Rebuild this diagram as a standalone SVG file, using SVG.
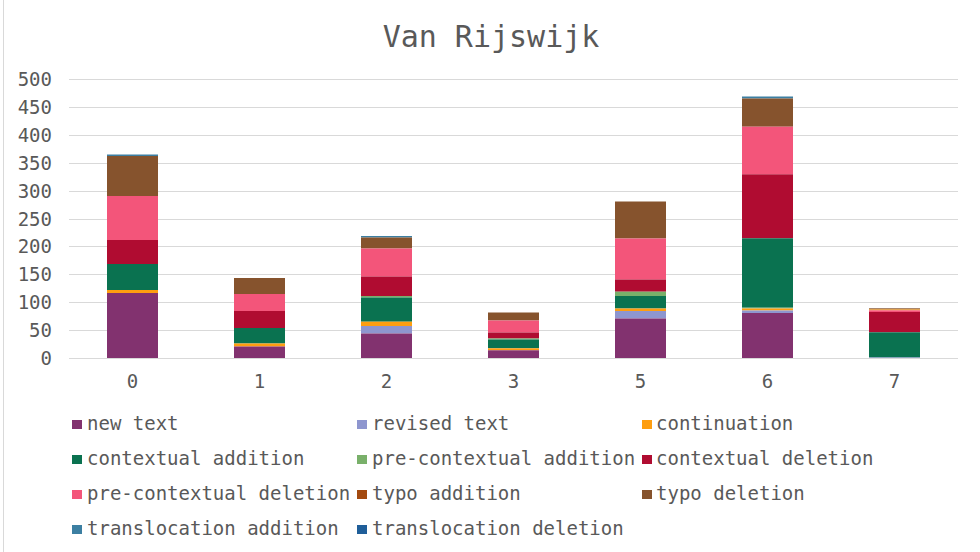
<svg xmlns="http://www.w3.org/2000/svg" width="980" height="552" viewBox="0 0 980 552">
<style>
text{font-family:"DejaVu Sans Mono","Liberation Mono",monospace;fill:#595959}
.title{font-size:30px;text-anchor:middle}
.ax{font-size:19px;text-anchor:end}
.cat{font-size:19px;text-anchor:middle}
.lg{font-size:19px}
.grid{stroke:#d9d9d9;stroke-width:1}
.nt{fill:#82326f}.rt{fill:#8e96cf}.cont{fill:#fe9e10}.ca{fill:#0a7250}.pca{fill:#79b06a}
.cd{fill:#b00c31}.pcd{fill:#f3557a}.tya{fill:#a34a10}.tyd{fill:#86532d}.tla{fill:#3c7fa2}.tld{fill:#1f5e99}
</style>
<rect x="0" y="0" width="980" height="552" fill="#ffffff"/>
<line x1="3.5" y1="0" x2="3.5" y2="552" stroke="#d9d9d9" stroke-width="1"/>
<text class="title" x="491" y="47">Van Rijswijk</text>
<g id="grid">
<line class="grid" x1="69" y1="79.5" x2="958" y2="79.5"/>
<line class="grid" x1="69" y1="107.5" x2="958" y2="107.5"/>
<line class="grid" x1="69" y1="135.5" x2="958" y2="135.5"/>
<line class="grid" x1="69" y1="163.5" x2="958" y2="163.5"/>
<line class="grid" x1="69" y1="191.5" x2="958" y2="191.5"/>
<line class="grid" x1="69" y1="219.5" x2="958" y2="219.5"/>
<line class="grid" x1="69" y1="246.5" x2="958" y2="246.5"/>
<line class="grid" x1="69" y1="274.5" x2="958" y2="274.5"/>
<line class="grid" x1="69" y1="302.5" x2="958" y2="302.5"/>
<line class="grid" x1="69" y1="330.5" x2="958" y2="330.5"/>
<line class="grid" x1="69" y1="358.5" x2="958" y2="358.5"/>
</g>
<g id="y-axis">
<text class="ax" x="52" y="86">500</text>
<text class="ax" x="52" y="114">450</text>
<text class="ax" x="52" y="142">400</text>
<text class="ax" x="52" y="170">350</text>
<text class="ax" x="52" y="198">300</text>
<text class="ax" x="52" y="226">250</text>
<text class="ax" x="52" y="253">200</text>
<text class="ax" x="52" y="281">150</text>
<text class="ax" x="52" y="309">100</text>
<text class="ax" x="52" y="337">50</text>
<text class="ax" x="52" y="365">0</text>
</g>
<g id="x-axis">
<text class="cat" x="132.5" y="388">0</text>
<text class="cat" x="259.5" y="388">1</text>
<text class="cat" x="386.5" y="388">2</text>
<text class="cat" x="513.5" y="388">3</text>
<text class="cat" x="640.5" y="388">5</text>
<text class="cat" x="767.5" y="388">6</text>
<text class="cat" x="894.5" y="388">7</text>
</g>
<g id="bar-0">
<rect class="tla" x="107" y="154.5" width="51" height="1.5"/>
<rect class="tyd" x="107" y="156" width="51" height="40"/>
<rect class="pcd" x="107" y="196" width="51" height="44"/>
<rect class="cd" x="107" y="240" width="51" height="24"/>
<rect class="ca" x="107" y="264" width="51" height="26"/>
<rect class="cont" x="107" y="290" width="51" height="3"/>
<rect class="nt" x="107" y="293" width="51" height="65"/>
</g>
<g id="bar-1">
<rect class="tyd" x="234" y="278" width="51" height="16"/>
<rect class="pcd" x="234" y="294" width="51" height="17"/>
<rect class="cd" x="234" y="311" width="51" height="17"/>
<rect class="ca" x="234" y="328" width="51" height="15.5"/>
<rect class="cont" x="234" y="343.5" width="51" height="3"/>
<rect class="nt" x="234" y="346.5" width="51" height="11.5"/>
</g>
<g id="bar-2">
<rect class="tla" x="361" y="236" width="51" height="1.5"/>
<rect class="tyd" x="361" y="237.5" width="51" height="11"/>
<rect class="pcd" x="361" y="248.5" width="51" height="28"/>
<rect class="cd" x="361" y="276.5" width="51" height="19.5"/>
<rect class="pca" x="361" y="296" width="51" height="1.5"/>
<rect class="ca" x="361" y="297.5" width="51" height="24.2"/>
<rect class="cont" x="361" y="321.7" width="51" height="4.3"/>
<rect class="rt" x="361" y="326" width="51" height="7.5"/>
<rect class="nt" x="361" y="333.5" width="51" height="24.5"/>
</g>
<g id="bar-3">
<rect class="tyd" x="488" y="312.5" width="51" height="8"/>
<rect class="pcd" x="488" y="320.5" width="51" height="12"/>
<rect class="cd" x="488" y="332.5" width="51" height="6"/>
<rect class="pca" x="488" y="338.5" width="51" height="1"/>
<rect class="ca" x="488" y="339.5" width="51" height="8.8"/>
<rect class="cont" x="488" y="348.3" width="51" height="2"/>
<rect class="nt" x="488" y="350.3" width="51" height="7.7"/>
</g>
<g id="bar-5">
<rect class="tyd" x="615" y="201.5" width="51" height="37"/>
<rect class="pcd" x="615" y="238.5" width="51" height="41"/>
<rect class="cd" x="615" y="279.5" width="51" height="12.2"/>
<rect class="pca" x="615" y="291.7" width="51" height="4.3"/>
<rect class="ca" x="615" y="296" width="51" height="12.5"/>
<rect class="cont" x="615" y="308.5" width="51" height="2.5"/>
<rect class="rt" x="615" y="311" width="51" height="7.5"/>
<rect class="nt" x="615" y="318.5" width="51" height="39.5"/>
</g>
<g id="bar-6">
<rect class="tla" x="742" y="96.5" width="51" height="2"/>
<rect class="tyd" x="742" y="98.5" width="51" height="28.2"/>
<rect class="pcd" x="742" y="126.7" width="51" height="47.6"/>
<rect class="cd" x="742" y="174.3" width="51" height="64"/>
<rect class="ca" x="742" y="238.3" width="51" height="69.4"/>
<rect class="pca" x="742" y="307.7" width="51" height="0.8"/>
<rect class="cont" x="742" y="308.5" width="51" height="2"/>
<rect class="rt" x="742" y="310.5" width="51" height="2.5"/>
<rect class="nt" x="742" y="313" width="51" height="45"/>
</g>
<g id="bar-7">
<rect class="tyd" x="869" y="308.3" width="51" height="1.2"/>
<rect class="cont" x="869" y="309.5" width="51" height="0.8"/>
<rect class="pcd" x="869" y="310.3" width="51" height="1.7"/>
<rect class="cd" x="869" y="312" width="51" height="20.3"/>
<rect class="ca" x="869" y="332.3" width="51" height="25.2"/>
<rect class="rt" x="869" y="357.5" width="51" height="0.5"/>
</g>
<g id="legend">
<rect class="nt" x="72" y="420" width="10" height="9"/><text class="lg" x="87" y="430">new text</text>
<rect class="rt" x="357" y="420" width="10" height="9"/><text class="lg" x="372" y="430">revised text</text>
<rect class="cont" x="642" y="420" width="10" height="9"/><text class="lg" x="656" y="430">continuation</text>
<rect class="ca" x="72" y="455" width="10" height="9"/><text class="lg" x="87" y="465">contextual addition</text>
<rect class="pca" x="357" y="455" width="10" height="9"/><text class="lg" x="372" y="465">pre-contextual addition</text>
<rect class="cd" x="642" y="455" width="10" height="9"/><text class="lg" x="656" y="465">contextual deletion</text>
<rect class="pcd" x="72" y="490" width="10" height="9"/><text class="lg" x="87" y="500">pre-contextual deletion</text>
<rect class="tya" x="357" y="490" width="10" height="9"/><text class="lg" x="372" y="500">typo addition</text>
<rect class="tyd" x="642" y="490" width="10" height="9"/><text class="lg" x="656" y="500">typo deletion</text>
<rect class="tla" x="72" y="525" width="10" height="9"/><text class="lg" x="87" y="535">translocation addition</text>
<rect class="tld" x="357" y="525" width="10" height="9"/><text class="lg" x="372" y="535">translocation deletion</text>
</g>
</svg>
